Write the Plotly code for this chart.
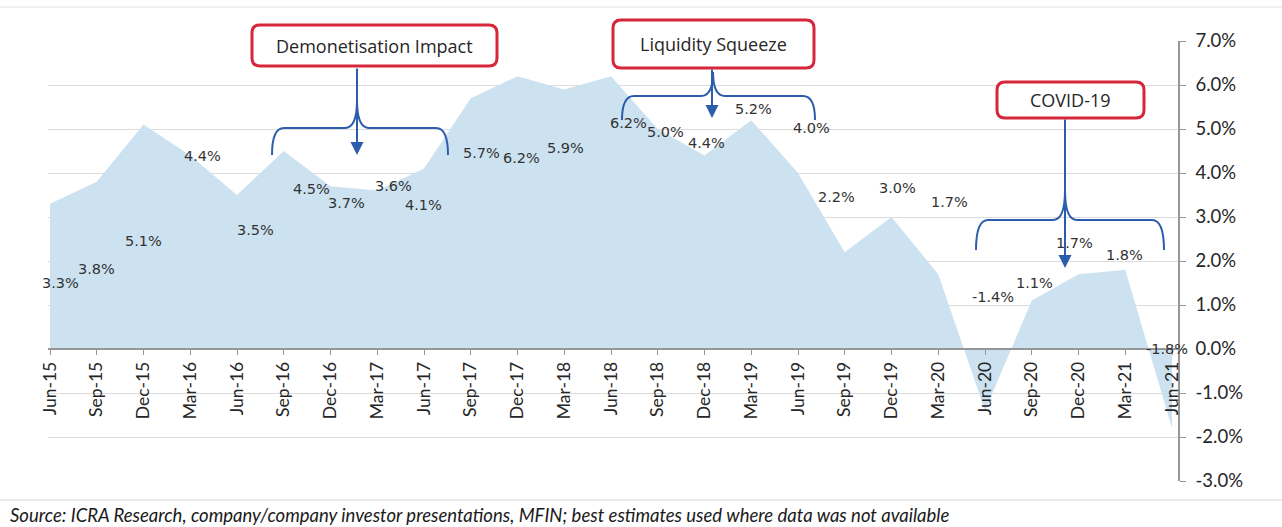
import plotly.graph_objects as go

# ---------------- data ----------------
quarters = ["Jun-15", "Sep-15", "Dec-15", "Mar-16", "Jun-16", "Sep-16", "Dec-16", "Mar-17",
            "Jun-17", "Sep-17", "Dec-17", "Mar-18", "Jun-18", "Sep-18", "Dec-18", "Mar-19",
            "Jun-19", "Sep-19", "Dec-19", "Mar-20", "Jun-20", "Sep-20", "Dec-20", "Mar-21",
            "Jun-21"]
growth_pct = [3.3, 3.8, 5.1, 4.4, 3.5, 4.5, 3.7, 3.6, 4.1, 5.7, 6.2, 5.9, 6.2, 5.0, 4.4, 5.2,
              4.0, 2.2, 3.0, 1.7, -1.4, 1.1, 1.7, 1.8, -1.8]
y_ticks = [-3, -2, -1, 0, 1, 2, 3, 4, 5, 6, 7]
y_tick_labels = [f"{v:.1f}%" for v in y_ticks]
callouts = ["Demonetisation Impact", "Liquidity Squeeze", "COVID-19"]
source_text = ("Source: ICRA Research, company/company investor presentations, MFIN; "
               "best estimates used where data was not available")

# label offsets (pixels) relative to each point
label_xshift = [10, 0, 0, 12, 18, 28, 16, 16, -1, 11, 4, 1, 17, 8, 2, 2, 13, -8, 6, 11, 8, 3, -4, -1, -5]
label_yshift = [-79, -87, -116, -1, -35, -38, -17, 5, -36, -55, -82, -59, -47, -3, 12, 11, 45, 55, 29, 72,
                114, 18, 31, 15, 79]

# ---------------- layout geometry ----------------
W, H = 1282, 527
L, R, T, B = 48, 104, 41, 46
PW, PH = W - L - R, H - T - B

def px(x):
    return (x - L) / PW

def py(y):
    return (H - B - y) / PH

xi = list(range(len(quarters)))

fig = go.Figure()
fig.add_trace(go.Scatter(
    x=xi, y=growth_pct, mode="lines", fill="tozeroy",
    line=dict(width=0, color="rgba(0,0,0,0)"),
    fillcolor="rgb(205,226,241)", hoverinfo="skip", showlegend=False,
))

annotations = []
for i, v in enumerate(growth_pct):
    annotations.append(dict(
        x=i, y=v, xref="x", yref="y", text=f"{v:.1f}%", showarrow=False,
        xshift=label_xshift[i], yshift=label_yshift[i],
        font=dict(family="DejaVu Sans", size=14.5, color="#333333"),
    ))

shapes = []
RED = "rgb(214,38,58)"
BLUE = "rgb(44,92,172)"

def rrect(x0, y0, x1, y1, r):
    pts = [
        ("M", [(x0 + r, y0)]), ("L", [(x1 - r, y0)]), ("Q", [(x1, y0), (x1, y0 + r)]),
        ("L", [(x1, y1 - r)]), ("Q", [(x1, y1), (x1 - r, y1)]), ("L", [(x0 + r, y1)]),
        ("Q", [(x0, y1), (x0, y1 - r)]), ("L", [(x0, y0 + r)]), ("Q", [(x0, y0), (x0 + r, y0)]),
    ]
    s = ""
    for cmd, ps in pts:
        s += cmd + " " + " ".join(f"{px(a):.5f},{py(b):.5f}" for a, b in ps) + " "
    return s + "Z"

def brace(x0, x1, xm, yl, yb, yt, r):
    segs = [
        ("M", [(x0, yb)]), ("Q", [(x0, yl), (x0 + r, yl)]), ("L", [(xm - r, yl)]),
        ("Q", [(xm, yl), (xm, yt)]), ("M", [(xm, yt)]), ("Q", [(xm, yl), (xm + r, yl)]),
        ("L", [(x1 - r, yl)]), ("Q", [(x1, yl), (x1, yb)]),
    ]
    s = ""
    for cmd, ps in segs:
        s += cmd + " " + " ".join(f"{px(a):.5f},{py(b):.5f}" for a, b in ps) + " "
    return s

boxes = [(252, 25, 497, 66), (613, 20, 814, 68), (997, 82, 1144, 118)]
for (x0, y0, x1, y1), label in zip(boxes, callouts):
    shapes.append(dict(type="path", xref="paper", yref="paper", path=rrect(x0, y0, x1, y1, 8),
                       line=dict(color=RED, width=3), fillcolor="white", layer="above"))
    annotations.append(dict(x=px((x0 + x1) / 2), y=py((y0 + y1) / 2), xref="paper", yref="paper",
                            xanchor="center", yanchor="middle",
                            text=label, showarrow=False,
                            font=dict(family="Open Sans", size=18, color="#262626")))

braces = [(272, 448, 357, 128, 155, 100), (622, 815, 713, 96, 120, 72), (976, 1164, 1065, 220, 250, 190)]
for b in braces:
    shapes.append(dict(type="path", xref="paper", yref="paper", path=brace(*b, r=12),
                       line=dict(color=BLUE, width=2), layer="above"))

arrows = [(357, 67, 155), (712, 68, 118), (1065, 118, 268)]
for x, ytail, ytip in arrows:
    annotations.append(dict(x=px(x), y=py(ytip), xref="paper", yref="paper", text="",
                            showarrow=True, ax=0, ay=ytail - ytip, axref="pixel", ayref="pixel",
                            arrowhead=2, arrowsize=1.3, arrowwidth=2, arrowcolor=BLUE))

# frame lines
shapes.append(dict(type="line", xref="paper", yref="paper", x0=px(0), x1=px(W), y0=py(7), y1=py(7),
                   line=dict(color="rgb(225,225,225)", width=1)))
shapes.append(dict(type="line", xref="paper", yref="paper", x0=px(0), x1=px(W), y0=py(500), y1=py(500),
                   line=dict(color="rgb(210,210,210)", width=1)))

annotations.append(dict(x=px(8), y=py(515), xref="paper", yref="paper",
                        xanchor="left", yanchor="middle",
                        text=source_text, showarrow=False,
                        font=dict(family="Lato", size=18.5, color="#1a1a1a", style="italic")))

fig.update_layout(
    width=W, height=H,
    margin=dict(l=L, r=R, t=T, b=B),
    paper_bgcolor="white", plot_bgcolor="white",
    showlegend=False,
    xaxis=dict(
        range=[-2 / 46.75, (1178 - 50) / 46.75],
        tickmode="array", tickvals=xi, ticktext=quarters, tickangle=-90,
        anchor="free", position=0.3,
        showline=True, linecolor="rgb(150,150,150)", linewidth=1.5,
        ticks="outside", ticklen=5, tickcolor="rgb(150,150,150)",
        showgrid=False, zeroline=False, automargin=False,
        tickfont=dict(family="Lato", size=17.5, color="#262626"),
    ),
    yaxis=dict(
        range=[-3, 7], side="right", domain=[0, 1],
        tickmode="array", tickvals=y_ticks, ticktext=y_tick_labels,
        showline=True, linecolor="rgb(150,150,150)", linewidth=1.5,
        ticks="outside", ticklen=6, tickcolor="rgb(150,150,150)",
        ticklabelstandoff=6,
        showgrid=True, gridcolor="rgb(220,220,220)", gridwidth=1,
        zeroline=False, automargin=False,
        tickfont=dict(family="Lato", size=18.5, color="#262626"),
    ),
    annotations=annotations,
    shapes=shapes,
)

fig.write_html("out.html", config={"displayModeBar": False},
               post_script="document.body.style.margin='0px';document.body.style.overflow='hidden';")
